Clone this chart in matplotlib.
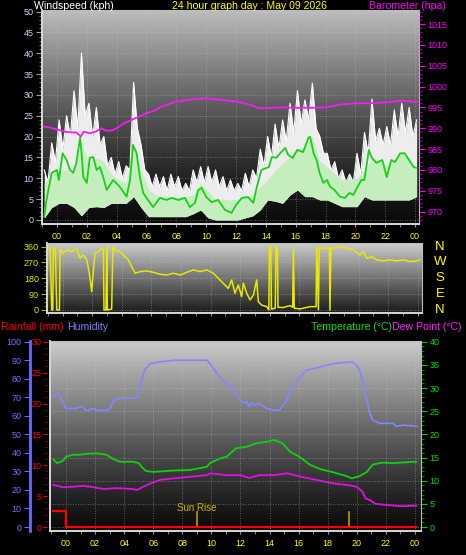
import numpy as np
import matplotlib
matplotlib.use("Agg")
import matplotlib.pyplot as plt
import matplotlib.transforms as mtransforms
from matplotlib.ticker import MultipleLocator, FixedLocator

plt.rcParams['font.family'] = ['Liberation Sans', 'DejaVu Sans']

# ---------------- data ----------------
title_text = "24 hour graph day : May 09 2026"
hour_ticks = [0, 2, 4, 6, 8, 10, 12, 14, 16, 18, 20, 22, 24]
hour_labels = ["00", "02", "04", "06", "08", "10", "12", "14", "16", "18", "20", "22", "00"]

# wind (kph) sampled every ~30 min (peaks) with the dips in between
wind_t = np.linspace(-0.85, 24.1, 51)
gust_peak = [12, 18.5, 24, 25, 31, 40, 28, 27, 20, 15, 14, 13, 33, 18, 11, 11, 10.4, 11, 10.4, 8.8,
             12, 12.8, 12.8, 12, 10.4, 9.6, 8.8, 11.2, 12, 17, 20, 23, 24, 28, 31, 28.8, 32.8, 20, 16, 14,
             12, 11, 16, 21, 29, 22, 22.4, 26.4, 28, 27, 24]
gust_dip = [9, 14, 17, 20, 22, 25, 20, 18, 13, 11, 10, 12, 22, 12, 8, 8, 7, 8, 7, 7,
            9, 9, 9, 8, 7, 7, 7, 8, 10, 13, 15, 17, 19, 21, 23, 24, 22, 16, 12, 10,
            9, 9, 11, 16, 19, 18, 18, 20, 21, 20]
speed_hi = [8.8, 11, 12, 12, 11, 19, 13, 15, 14, 11, 9.6, 9, 17.6, 12, 7.2, 6, 5.6, 5.6, 5.6, 5.6,
            6, 8.8, 7, 5, 5, 4.8, 5, 6, 5.5, 8, 9.6, 12, 13.6, 15.2, 17, 17.6, 20, 14, 12.8, 11,
            9.6, 9.6, 10, 12, 15, 14.4, 13, 14.4, 16, 15, 12]
speed_lo = [0.5, 3, 4, 4, 3, 1, 3, 3.2, 3, 4, 4, 4, 5.6, 3, 0.8, 0.8, 0.8, 0.8, 0.8, 0.8,
            1.5, 2.4, 0.5, 0, 0, 0, 0, 0.5, 1, 2.4, 4.8, 4.5, 4, 6, 7.2, 5.6, 5.6, 4.8, 4.8, 4,
            3.2, 3.2, 3.2, 5.6, 4.8, 4.8, 4.8, 4.8, 4.8, 4.8, 5.6]

avg_t = [-0.85, -0.7, -0.35, 0.0, 0.13, 0.38, 0.65, 0.87, 1.1, 1.3, 1.55, 1.65, 1.77, 2.0, 2.2,
         2.43, 2.66, 2.88, 3.1, 3.33, 3.77, 4.2, 4.67, 4.9, 5.1, 5.34, 5.56, 5.78, 6.0, 6.45,
         6.9, 7.35, 7.7, 8.13, 8.58, 8.9, 9.25, 9.47, 9.7, 10.0, 10.37, 10.8, 11.26, 11.7, 12.0,
         12.4, 12.8, 13.16, 13.4, 13.7, 14.2, 14.4, 14.7, 14.95, 15.3, 15.5, 15.8, 16.1, 16.5,
         16.85, 16.96, 17.2, 17.4, 17.6, 17.85, 18.1, 18.3, 18.6, 18.97, 19.3, 19.6, 19.86, 20.1,
         20.4, 20.6, 20.9, 21.1, 21.4, 21.8, 22.1, 22.4, 22.65, 23.0, 23.3, 23.5, 23.9, 24.1]
avg_v = [0.8, 4.8, 11.3, 12.0, 9.6, 16.0, 14.4, 12.0, 11.3, 13.7, 19.7, 16.0, 10.3, 8.9, 14.9,
         15.1, 12.0, 12.7, 10.3, 7.2, 9.6, 8.0, 5.6, 9.6, 18.0, 16.0, 10.3, 6.5, 5.3, 3.1,
         5.3, 4.8, 5.3, 4.8, 5.3, 3.1, 4.1, 7.2, 7.7, 5.5, 4.3, 4.8, 2.4, 1.7, 3.6,
         5.3, 5.5, 4.1, 8.0, 12.0, 12.7, 15.1, 14.9, 16.0, 17.3, 15.6, 14.9, 16.8, 16.3,
         19.7, 20.0, 16.0, 14.4, 11.3, 8.9, 9.6, 8.0, 7.2, 5.6, 5.3, 6.5, 6.0, 7.7,
         9.6, 9.6, 16.8, 14.9, 13.7, 14.4, 10.3, 14.4, 13.9, 16.0, 16.0, 14.9, 12.7, 12.5]

baro_t = [-0.85, -0.5, 0, 0.5, 1.0, 1.3, 1.6, 1.8, 2.2, 2.6, 3.0, 3.3, 3.7, 4.0, 4.5, 5.0, 5.5, 6.0,
          6.5, 7.0, 8, 9, 10, 11, 12, 12.5, 13, 13.5, 14, 15, 16, 17, 18, 19, 20, 21, 22, 23, 23.5, 24.1]
baro_v = [990.4, 990.2, 989.7, 989.2, 989.0, 989.0, 988.0, 989.2, 988.8, 989.2, 990.0, 989.4, 989.5,
          990.0, 991.2, 992.0, 992.8, 993.6, 994.2, 995.2, 996.4, 996.9, 997.2, 996.8, 996.4, 996.0,
          995.6, 994.8, 994.8, 995.0, 994.9, 994.9, 995.0, 995.7, 996.0, 996.0, 996.2, 996.6, 996.5, 996.3]

dir_t = [-0.84, -0.73, -0.66, -0.62, -0.49, -0.39, -0.21, -0.17, 0.0, 0.28, 0.62, 0.96, 1.18, 1.41,
         1.64, 1.75, 1.86, 1.97, 2.08, 2.2, 2.42, 2.65, 2.76, 2.8, 2.93, 2.99, 3.03, 3.32, 3.4, 3.55,
         3.89, 4.22, 4.45, 4.67, 4.9, 5.24, 5.69, 6.14, 6.59, 7.04, 7.49, 7.94, 8.39, 8.84, 9.29,
         9.74, 10.19, 10.52, 10.86, 11.2, 11.43, 11.65, 11.88, 12.1, 12.22, 12.45, 12.67, 12.9,
         13.12, 13.23, 13.45, 13.8, 13.94, 13.98, 14.07, 14.12, 14.37, 14.43, 14.52, 14.56, 14.92,
         15.37, 15.55, 15.6, 15.66, 16.05, 16.73, 17.13, 17.18, 17.29, 17.35, 17.51, 17.85, 18.03,
         18.07, 18.14, 18.3, 18.75, 19.2, 19.65, 20.1, 20.33, 20.56, 20.9, 21.23, 21.68, 22.13,
         22.58, 23.03, 23.48, 23.93, 24.15]
dir_v = [351, 0, 0, 350, 355, 0, 0, 345, 323, 341, 332, 351, 294, 313,
         285, 237, 180, 104, 218, 323, 332, 351, 341, 0, 0, 360, 0, 5, 360, 341,
         332, 303, 285, 246, 209, 218, 222, 214, 203, 199, 209, 199, 214, 228, 218,
         228, 209, 180, 152, 123, 171, 95, 142, 76, 152, 95, 57, 85,
         171, 47, 28, 19, 0, 360, 360, 5, 10, 360, 360, 15, 14,
         25, 15, 355, 10, 6, 19, 19, 360, 0, 355, 351, 351, 355,
         0, 355, 351, 360, 351, 341, 313, 332, 294, 303, 285, 279, 285,
         279, 285, 275, 279, 285]
compass_deg = [360, 270, 180, 90, 0]
compass_lbl = ["N", "W", "S", "E", "N"]

rain_t = [-0.87, 0.0, 0.0, 24.1]
rain_v = [2.6, 2.6, 0.0, 0.0]

hum_t = [-0.87, -0.6, -0.3, 0.0, 0.7, 1.1, 1.4, 1.9, 2.1, 2.8, 3.03, 3.3, 3.7, 4.6, 4.9, 5.1, 5.4,
         5.78, 6.47, 7.4, 9.7, 9.9, 10.4, 10.8, 11.5, 12.0, 12.2, 12.4, 12.6, 12.7, 12.9, 13.3,
         13.8, 14.3, 14.7, 15.2, 15.6, 16.1, 16.55, 17.5, 18.4, 18.8, 19.7, 20.0, 20.2, 20.7,
         20.9, 21.1, 21.6, 22.5, 22.7, 23.2, 24.1]
hum_v = [70.2, 72.4, 69, 64, 64, 65.2, 63, 64, 63, 63, 64, 68.5, 69.4, 69.4, 70, 75.6, 84.6,
         88.2, 89.1, 90, 90, 88.2, 82.8, 79.2, 73.9, 68.5, 67, 67.6, 65, 67, 65.8, 66.7,
         64, 63.1, 63.1, 68.5, 75.6, 81, 84.6, 86.4, 88.2, 88.6, 89.1, 87.3, 84.6, 68.5,
         61.4, 57.7, 55.9, 56, 54.4, 55, 54.4]

temp_t = [-0.87, -0.6, -0.2, 0.0, 0.5, 0.9, 1.4, 2.1, 2.8, 3.3, 3.7, 4.6, 5.0, 5.2, 5.5, 6.0, 7.4,
          8.5, 9.7, 9.9, 10.6, 11.05, 11.7, 12.4, 13.1, 13.8, 14.3, 14.9, 15.4, 16.1, 16.8, 17.5,
          18.4, 19.3, 19.65, 20.2, 20.7, 21.1, 21.8, 22.5, 23.0, 24.1]
temp_v = [14.6, 13.8, 14.3, 15.2, 15.6, 15.6, 15.8, 15.9, 15.6, 14.6, 14.1, 14.1, 13.8, 13.0, 12.1,
          11.9, 12.2, 12.3, 13.0, 13.8, 14.8, 15.2, 17.0, 17.3, 18.1, 18.4, 18.8, 18.1, 16.3, 15.1,
          13.4, 12.5, 11.8, 11.0, 10.5, 11.0, 11.9, 13.5, 13.9, 13.8, 13.9, 14.1]

dew_t = [-0.87, -0.2, 0.5, 1.2, 1.9, 2.6, 3.5, 4.6, 4.9, 5.3, 5.8, 6.5, 7.4, 9.7, 9.9, 11.05, 12.0,
         12.6, 13.3, 14.3, 15.2, 16.1, 17.5, 18.4, 19.3, 20.0, 20.4, 20.6, 20.9, 21.3, 22.1, 23.0, 24.1]
dew_v = [9.1, 8.6, 8.7, 8.9, 8.6, 8.2, 8.4, 8.2, 8.0, 8.7, 9.4, 10.2, 10.5, 11.2, 11.6, 11.2, 11.2,
         10.6, 11.2, 11.2, 11.6, 10.9, 10.0, 9.4, 9.1, 8.7, 7.6, 6.2, 5.8, 5.0, 4.75, 4.5, 4.6]

sun_t = [8.99, 19.46]
sun_lbl = ["Sun Rise", ""]

# ---------------- style ----------------
W, H = 466, 555
fig = plt.figure(figsize=(W / 100, H / 100), dpi=100, facecolor='black')

YEL = '#ffff00'
GRID = dict(color='#c8c8c8', linestyle=(0, (1, 2)), linewidth=0.6, alpha=0.55)
TS = 6.5   # tick label size
HS = 7.6   # header size


def box(x0, y0, x1, y1):
    return [x0 / W, 1 - y1 / H, (x1 - x0) / W, (y1 - y0) / H]


def gradient(ax, top, bottom, power=1.0):
    g = np.linspace(0, 1, 256) ** power
    vals = bottom + (top - bottom) * g
    img = np.dstack([vals, vals, vals]).reshape(256, 1, 3)
    ax.imshow(img, aspect='auto', extent=[0, 1, 0, 1], transform=ax.transAxes,
              origin='lower', zorder=0, interpolation='bilinear')


def frame(ax):
    for s in ['left', 'bottom']:
        ax.spines[s].set_color('#d8d8d8')
        ax.spines[s].set_linewidth(1.4)
    for s in ['top', 'right']:
        ax.spines[s].set_color('#bdbdbd')
        ax.spines[s].set_linewidth(0.8)


# zig-zag gust trace: peaks at the half-hour samples, dips midway between them
gust_t = np.empty(2 * len(wind_t) - 1)
gust_t[0::2] = wind_t
gust_t[1::2] = 0.5 * (wind_t[:-1] + wind_t[1:])
gust_v = np.empty(gust_t.size)
gust_v[0::2] = gust_peak
gust_v[1::2] = gust_dip
gust_floor = np.interp(gust_t, wind_t, speed_lo)

# ---------- top panel: wind + barometer ----------
ax1 = fig.add_axes(box(42, 10, 419, 224))
ax1b = ax1.twinx()
ax1.set_facecolor('black')
gradient(ax1, 0.74, 0.04, power=1.3)
ax1.fill_between(gust_t, gust_floor, gust_v, color='#ededed', lw=0, zorder=2)
ax1.plot(gust_t, gust_v, color='#ffffff', lw=0.8, zorder=2)
ax1.fill_between(wind_t, speed_lo, speed_hi, color='#c6edbd', lw=0, zorder=3)
ax1.plot(avg_t, avg_v, color='#18d018', lw=1.3, zorder=4)
ax1.set_xlim(-1.0, 24.26)
ax1.set_ylim(-0.96, 50.36)
ax1.set_axisbelow(True)
ax1.grid(True, which='major', **GRID)
ax1.xaxis.set_major_locator(FixedLocator(hour_ticks))
ax1.set_xticklabels(hour_labels)
ax1.xaxis.set_minor_locator(MultipleLocator(1))
ax1.yaxis.set_major_locator(MultipleLocator(5))
ax1.yaxis.set_minor_locator(MultipleLocator(1))
ax1.yaxis.tick_left()
ax1.tick_params(axis='x', which='both', colors='#9a9a9a', labelcolor=YEL, labelsize=TS, length=2, pad=4)
ax1.tick_params(axis='y', which='major', colors='#a0a0a0', labelcolor='#c4d4ff', labelsize=TS, length=4, pad=2)
ax1.tick_params(axis='y', which='minor', colors='#808080', length=2)
frame(ax1)

ax1b.plot(baro_t, baro_v, color='#f020f0', lw=1.3, zorder=5)
ax1b.set_ylim(967.04, 1018.36)
ax1b.yaxis.set_major_locator(FixedLocator([970, 975, 980, 985, 990, 995, 1000, 1005, 1010, 1015]))
ax1b.yaxis.set_minor_locator(MultipleLocator(1))
ax1b.yaxis.tick_right()
ax1b.tick_params(axis='y', which='major', colors='#ff00ff', labelcolor='#ff00ff', labelsize=TS, length=4, pad=2)
ax1b.tick_params(axis='y', which='minor', colors='#c000c0', length=2)
for s in ax1b.spines.values():
    s.set_visible(False)

fig.text(34 / W, 1 - 6 / H, "Windspeed (kph)", color='white', fontsize=HS, va='center', ha='left')
fig.text(250 / W, 1 - 6 / H, title_text, color=YEL, fontsize=HS, va='center', ha='center')
fig.text(446 / W, 1 - 6 / H, "Barometer (hpa)", color='#ff00ff', fontsize=HS, va='center', ha='right')

# ---------- middle panel: wind direction ----------
ax2 = fig.add_axes(box(47.3, 243.3, 421.7, 312.7))
ax2.set_facecolor('black')
gradient(ax2, 0.80, 0.10, power=1.0)
ax2.plot(dir_t, dir_v, color='#e8e800', lw=1.1, zorder=3)
ax2.set_xlim(-1.03, 24.27)
ax2.set_ylim(-15.4, 379)
ax2.set_axisbelow(True)
ax2.grid(True, which='major', **GRID)
ax2.xaxis.set_major_locator(FixedLocator(hour_ticks))
ax2.xaxis.set_minor_locator(MultipleLocator(1))
ax2.set_xticklabels([])
ax2.yaxis.set_major_locator(FixedLocator([0, 90, 180, 270, 360]))
ax2.yaxis.set_minor_locator(MultipleLocator(22.5))
ax2.tick_params(axis='x', which='both', colors='#9a9a9a', length=2)
ax2.tick_params(axis='y', which='major', colors='#b0b000', labelcolor='#e8e800', labelsize=TS, length=4, pad=2)
ax2.tick_params(axis='y', which='minor', colors='#909000', length=2)
frame(ax2)
trans2 = mtransforms.blended_transform_factory(ax2.transAxes, ax2.transData)
for d, l in zip(compass_deg, compass_lbl):
    ax2.text(1.049, d, l, transform=trans2, color=YEL, fontsize=9.5, ha='center', va='center', clip_on=False)

# ---------- bottom panel: temperature / dew / humidity / rain ----------
ax3 = fig.add_axes(box(50, 341, 421, 531))
ax3h = ax3.twinx()
ax3r = ax3.twinx()
ax3.set_facecolor('black')
gradient(ax3, 0.80, 0.04, power=1.2)
ax3.plot(temp_t, temp_v, color='#10d010', lw=1.3, zorder=4)
ax3.plot(dew_t, dew_v, color='#e010e0', lw=1.3, zorder=4)
for st, sl in zip(sun_t, sun_lbl):
    ax3.plot([st, st], [0, 3.3], color='#b0a000', lw=1.2, zorder=3)
    if sl:
        ax3.text(st, 4.2, sl, color='#c8b400', fontsize=7, ha='center', va='center', zorder=5)
ax3.set_xlim(-1.1, 24.42)
ax3.set_ylim(-0.86, 40.17)
ax3.set_axisbelow(True)
ax3.grid(True, which='major', **GRID)
ax3.xaxis.set_major_locator(FixedLocator(hour_ticks))
ax3.set_xticklabels(hour_labels)
ax3.xaxis.set_minor_locator(MultipleLocator(1))
ax3.yaxis.set_major_locator(MultipleLocator(5))
ax3.yaxis.set_minor_locator(MultipleLocator(1))
ax3.yaxis.tick_right()
ax3.tick_params(axis='x', which='both', colors='#9a9a9a', labelcolor=YEL, labelsize=TS, length=2, pad=4)
ax3.tick_params(axis='y', which='major', colors='#00d000', labelcolor='#00e000', labelsize=TS, length=4, pad=2)
ax3.tick_params(axis='y', which='minor', colors='#00a000', length=2)
frame(ax3)

ax3h.plot(hum_t, hum_v, color='#8585ff', lw=1.2, zorder=5)
ax3h.set_ylim(-2.15, 100.4)
ax3h.yaxis.tick_left()
for s in ax3h.spines.values():
    s.set_visible(False)
ax3h.spines['left'].set_visible(True)
ax3h.spines['left'].set_position(('axes', -0.054))
ax3h.spines['left'].set_color('#6a6aff')
ax3h.spines['left'].set_linewidth(2)
ax3h.yaxis.set_major_locator(MultipleLocator(10))
ax3h.tick_params(axis='y', which='major', colors='#6a6aff', labelcolor='#7070ff', labelsize=TS, length=4, pad=2)

ax3r.plot(rain_t, rain_v, color='#ff0000', lw=1.6, zorder=6)
ax3r.set_ylim(-0.645, 30.13)
ax3r.yaxis.tick_left()
for s in ax3r.spines.values():
    s.set_visible(False)
ax3r.spines['left'].set_position(('axes', -0.008))
ax3r.yaxis.set_major_locator(MultipleLocator(5))
ax3r.yaxis.set_minor_locator(MultipleLocator(1))
ax3r.tick_params(axis='y', which='major', colors='#ff0000', labelcolor='#ff0000', labelsize=TS, length=3, pad=1)
ax3r.tick_params(axis='y', which='minor', colors='#c00000', length=1.5)

fig.text(1 / W, 1 - 327 / H, "Rainfall (mm)", color='#ff0000', fontsize=HS, va='center', ha='left')
fig.text(67 / W, 1 - 327 / H, "Humidity", color='#8080ff', fontsize=HS, va='center', ha='left')
fig.text(392 / W, 1 - 327 / H, "Temperature (°C)", color='#10e010', fontsize=HS, va='center', ha='right')
fig.text(392 / W, 1 - 327 / H, "Dew Point (°C)", color='#ff20ff', fontsize=HS, va='center', ha='left')

fig.savefig('out.png', dpi=100, facecolor='black')
